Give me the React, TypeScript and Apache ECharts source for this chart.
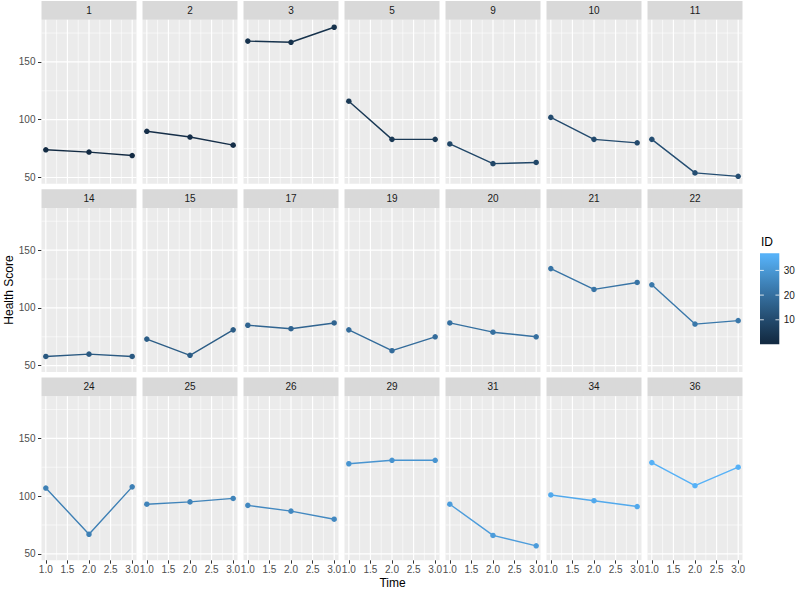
import React, { useEffect, useRef } from 'react';
import * as echarts from 'echarts';

// ---- data ----
const ids = [1, 2, 3, 5, 9, 10, 11, 14, 15, 17, 19, 20, 21, 22, 24, 25, 26, 29, 31, 34, 36];
const times = [1, 2, 3];
const scores: number[][] = [
  [74, 72, 69], [90, 85, 78], [168, 167, 180], [116, 83, 83], [79, 62, 63], [102, 83, 80], [83, 54, 51],
  [58, 60, 58], [73, 59, 81], [85, 82, 87], [81, 63, 75], [87, 79, 75], [134, 116, 122], [120, 86, 89],
  [107, 67, 108], [93, 95, 98], [92, 87, 80], [128, 131, 131], [93, 66, 57], [101, 96, 91], [129, 109, 125],
];
const xTicks = [1, 1.5, 2, 2.5, 3];
const xMinor = [1.25, 1.75, 2.25, 2.75];
const yTicks = [50, 100, 150];
const yMinor = [75, 125, 175];
const legendTicks = [10, 20, 30];
const idLimits = [1, 36];
const lowColor = '#132B43';
const highColor = '#56B1F7';

// ---- colour helpers (CIELAB interpolation like ggplot) ----
function hexToRgb(h: string) {
  const n = parseInt(h.slice(1), 16);
  return [(n >> 16) & 255, (n >> 8) & 255, n & 255];
}
function rgbToLab([r, g, b]: number[]) {
  const lin = (c: number) => { c /= 255; return c <= 0.04045 ? c / 12.92 : Math.pow((c + 0.055) / 1.055, 2.4); };
  const R = lin(r), G = lin(g), B = lin(b);
  const X = (0.4124 * R + 0.3576 * G + 0.1805 * B) / 0.95047;
  const Y = 0.2126 * R + 0.7152 * G + 0.0722 * B;
  const Z = (0.0193 * R + 0.1192 * G + 0.9505 * B) / 1.08883;
  const f = (t: number) => (t > 0.008856 ? Math.cbrt(t) : 7.787 * t + 16 / 116);
  return [116 * f(Y) - 16, 500 * (f(X) - f(Y)), 200 * (f(Y) - f(Z))];
}
function labToHex([L, a, b]: number[]) {
  const fy = (L + 16) / 116, fx = fy + a / 500, fz = fy - b / 200;
  const inv = (t: number) => (t * t * t > 0.008856 ? t * t * t : (t - 16 / 116) / 7.787);
  const X = 0.95047 * inv(fx), Y = inv(fy), Z = 1.08883 * inv(fz);
  const r = 3.2406 * X - 1.5372 * Y - 0.4986 * Z;
  const g = -0.9689 * X + 1.8758 * Y + 0.0415 * Z;
  const bb = 0.0557 * X - 0.204 * Y + 1.057 * Z;
  const gam = (c: number) => {
    const v = c <= 0.0031308 ? 12.92 * c : 1.055 * Math.pow(c, 1 / 2.4) - 0.055;
    return Math.max(0, Math.min(255, Math.round(v * 255)));
  };
  return '#' + [gam(r), gam(g), gam(bb)].map((v) => v.toString(16).padStart(2, '0')).join('');
}
const labLow = rgbToLab(hexToRgb(lowColor));
const labHigh = rgbToLab(hexToRgb(highColor));
function idColor(id: number) {
  const t = (id - idLimits[0]) / (idLimits[1] - idLimits[0]);
  return labToHex(labLow.map((v, k) => v + (labHigh[k] - v) * t));
}

// ---- scales ----
const allScores = scores.flat();
const yLo = Math.min(...allScores), yHi = Math.max(...allScores);
const yMin = yLo - 0.05 * (yHi - yLo), yMax = yHi + 0.05 * (yHi - yLo);
const xLo = Math.min(...times), xHi = Math.max(...times);
const xMin = xLo - 0.05 * (xHi - xLo), xMax = xHi + 0.05 * (xHi - xLo);

// ---- layout ----
const NCOL = 7;
const L0 = 41.5, COLSTEP = 101, PW = 95;
const T0 = 1, ROWSTEP = 188.2, SH = 18.8, PH = 164;
const FONT = '"Liberation Sans", Arial, Helvetica, sans-serif';

function gridLines(xs: number[], ys: number[]) {
  const d: any[] = [];
  xs.forEach((x) => { d.push([x, yMin], [x, yMax], ['-', '-']); });
  ys.forEach((y) => { d.push([xMin, y], [xMax, y], ['-', '-']); });
  return d;
}

export default function App() {
  const ref = useRef<HTMLDivElement>(null);
  useEffect(() => {
    document.body.style.margin = '0';
    const chart = echarts.init(ref.current!, null, { renderer: 'svg' });
    const nRows = Math.ceil(ids.length / NCOL);
    const grids: any[] = [], xAxes: any[] = [], yAxes: any[] = [], series: any[] = [], graphics: any[] = [];
    ids.forEach((id, i) => {
      const r = Math.floor(i / NCOL), c = i % NCOL;
      const left = L0 + c * COLSTEP;
      const stripTop = T0 + r * ROWSTEP;
      const top = stripTop + SH;
      const isLeft = c === 0;
      const isBottom = r === nRows - 1;
      grids.push({ left, top, width: PW, height: PH, show: true, backgroundColor: '#EBEBEB', borderWidth: 0, containLabel: false });
      xAxes.push({
        type: 'value', gridIndex: i, min: xMin, max: xMax,
        axisLine: { show: false }, splitLine: { show: false },
        axisTick: { show: isBottom, customValues: xTicks, length: 3.5, lineStyle: { color: '#333333', width: 1 } },
        axisLabel: { show: isBottom, customValues: xTicks, formatter: (v: number) => v.toFixed(1), margin: 4, fontSize: 10, color: '#4D4D4D', fontFamily: FONT },
      });
      yAxes.push({
        type: 'value', gridIndex: i, min: yMin, max: yMax,
        axisLine: { show: false }, splitLine: { show: false },
        axisTick: { show: isLeft, customValues: yTicks, length: 3.5, lineStyle: { color: '#333333', width: 1 } },
        axisLabel: { show: isLeft, customValues: yTicks, margin: 6, fontSize: 10, color: '#4D4D4D', fontFamily: FONT },
      });
      series.push({
        type: 'line', xAxisIndex: i, yAxisIndex: i, data: gridLines(xMinor, yMinor), silent: true,
        showSymbol: false, symbol: 'none', connectNulls: false, z: 1,
        lineStyle: { color: '#FFFFFF', width: 0.6 },
      });
      series.push({
        type: 'line', xAxisIndex: i, yAxisIndex: i, data: gridLines(xTicks, yTicks), silent: true,
        showSymbol: false, symbol: 'none', connectNulls: false, z: 1,
        lineStyle: { color: '#FFFFFF', width: 1.2 },
      });
      const col = idColor(id);
      series.push({
        type: 'line', xAxisIndex: i, yAxisIndex: i, name: String(id),
        data: times.map((t, k) => [t, scores[i][k]]),
        symbol: 'circle', symbolSize: 5.5, showSymbol: true, z: 3,
        lineStyle: { color: col, width: 1.4 }, itemStyle: { color: col },
      });
      graphics.push({ type: 'rect', shape: { x: left, y: stripTop, width: PW, height: SH }, style: { fill: '#D9D9D9' }, silent: true });
      graphics.push({
        type: 'text', x: left + PW / 2, y: stripTop + SH / 2,
        style: { text: String(id), fill: '#1A1A1A', font: `10px ${FONT}`, align: 'center', verticalAlign: 'middle', textAlign: 'center', textVerticalAlign: 'middle' },
      });
    });

    // axis titles
    graphics.push({
      type: 'text', x: 392.5, y: 582.5,
      style: { text: 'Time', fill: '#000000', font: `12px ${FONT}`, align: 'center', verticalAlign: 'middle', textAlign: 'center', textVerticalAlign: 'middle' },
    });
    graphics.push({
      type: 'text', x: 9, y: 290, rotation: Math.PI / 2,
      style: { text: 'Health Score', fill: '#000000', font: `12px ${FONT}`, align: 'center', verticalAlign: 'middle', textAlign: 'center', textVerticalAlign: 'middle' },
    });

    // colour bar legend
    const barX = 760, barY = 253.3, barW = 19.3, barH = 91, nbin = 20;
    const binH = barH / nbin;
    const posFromBottom = (v: number) => binH / 2 + ((v - idLimits[0]) / (idLimits[1] - idLimits[0])) * (barH - binH);
    const stops: any[] = [];
    const nStops = 12;
    for (let k = 0; k <= nStops; k++) {
      const v = idLimits[0] + ((idLimits[1] - idLimits[0]) * k) / nStops;
      stops.push({ offset: 1 - posFromBottom(v) / barH, color: idColor(v) });
    }
    stops.push({ offset: 0, color: idColor(idLimits[1]) });
    stops.push({ offset: 1, color: idColor(idLimits[0]) });
    stops.sort((a, b) => a.offset - b.offset);
    graphics.push({
      type: 'rect', shape: { x: barX, y: barY, width: barW, height: barH },
      style: { fill: new echarts.graphic.LinearGradient(0, 0, 0, 1, stops) }, silent: true,
    });
    legendTicks.forEach((v) => {
      const y = barY + barH - posFromBottom(v);
      graphics.push({ type: 'line', shape: { x1: barX, y1: y, x2: barX + barW / 5, y2: y }, style: { stroke: '#FFFFFF', lineWidth: 0.8 } });
      graphics.push({ type: 'line', shape: { x1: barX + barW - barW / 5, y1: y, x2: barX + barW, y2: y }, style: { stroke: '#FFFFFF', lineWidth: 0.8 } });
      graphics.push({
        type: 'text', x: barX + barW + 4.5, y,
        style: { text: String(v), fill: '#1A1A1A', font: `10px ${FONT}`, align: 'left', verticalAlign: 'middle', textAlign: 'left', textVerticalAlign: 'middle' },
      });
    });
    graphics.push({
      type: 'text', x: barX + 1, y: 241.5,
      style: { text: 'ID', fill: '#000000', font: `12px ${FONT}`, align: 'left', verticalAlign: 'middle', textAlign: 'left', textVerticalAlign: 'middle' },
    });

    chart.setOption({
      animation: false,
      backgroundColor: '#FFFFFF',
      grid: grids,
      xAxis: xAxes,
      yAxis: yAxes,
      series,
      graphic: graphics,
    });
    return () => chart.dispose();
  }, []);
  return <div ref={ref} style={{ width: 800, height: 589 }} />;
}
